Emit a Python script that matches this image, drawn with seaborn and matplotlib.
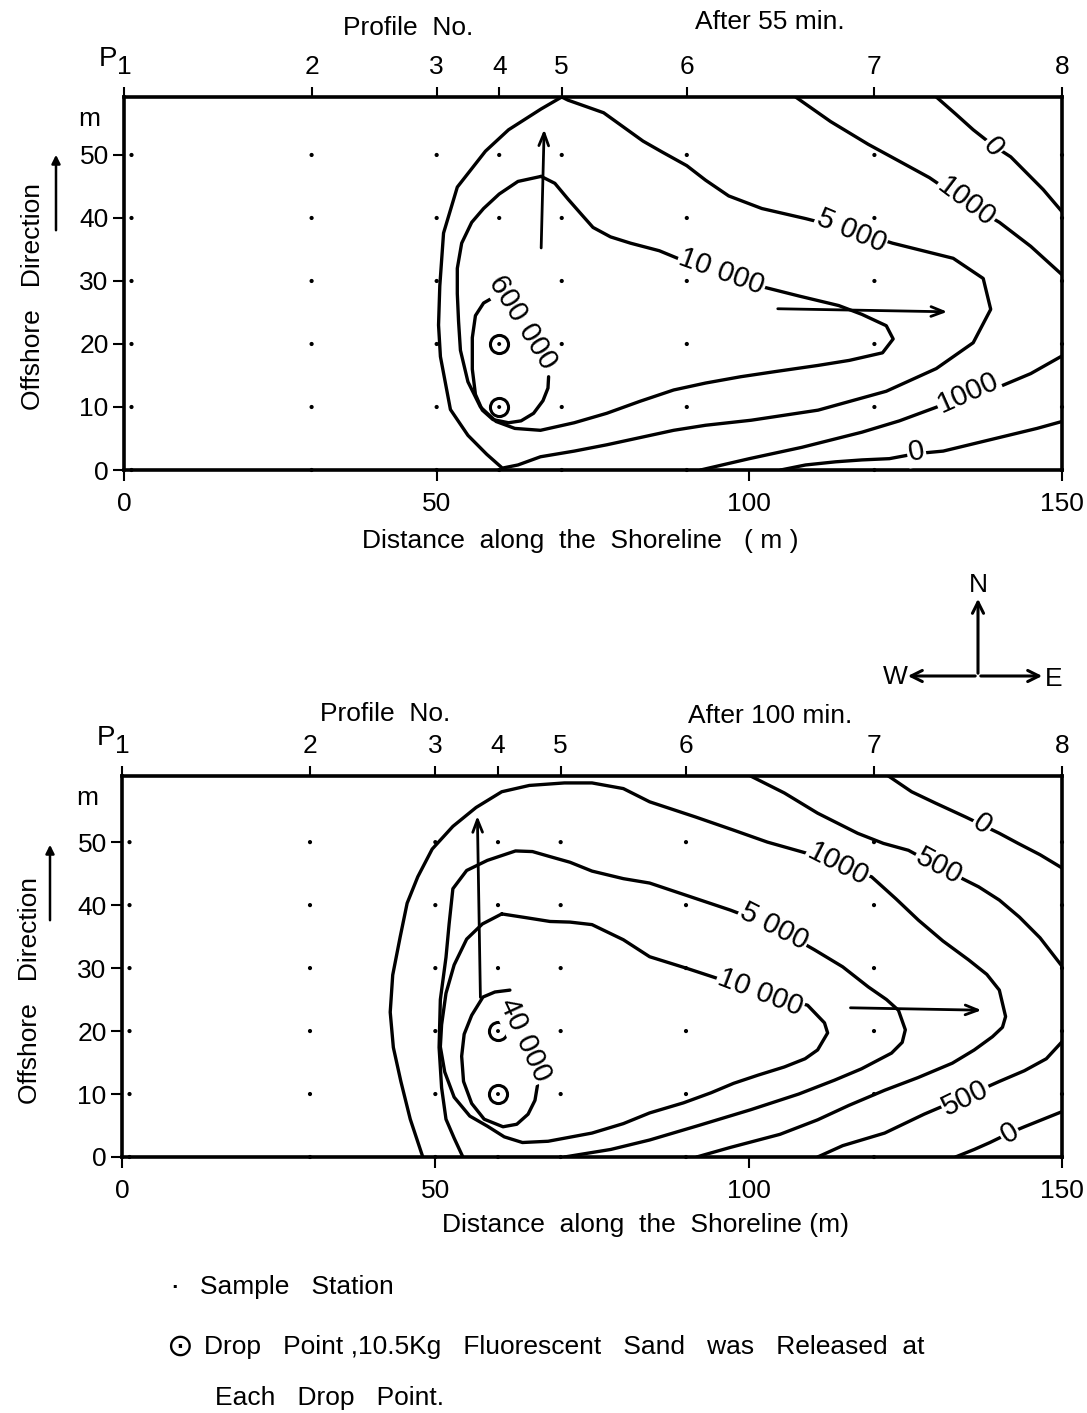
import matplotlib
matplotlib.use("Agg")
import matplotlib.pyplot as plt
import seaborn as sns
import pandas as pd

sns.set_style("white")
plt.rcParams['font.family'] = ['Liberation Sans', 'DejaVu Sans']
plt.rcParams.update({'text.color': 'black', 'axes.labelcolor': 'black',
                     'xtick.color': 'black', 'ytick.color': 'black'})

# ---------------- data ----------------
profile_x = [0, 30, 50, 60, 70, 90, 120, 150]
profile_labels = ["1", "2", "3", "4", "5", "6", "7", "8"]
station_x = [1.2, 30, 50, 60, 70, 90, 120, 150]
station_y = [0, 10, 20, 30, 40, 50]
drop_x = [60, 60]
drop_y = [20, 10]
xticks = [0, 50, 100, 150]
yticks = [0, 10, 20, 30, 40, 50]

# Panel 1 (after 55 min) contour lines
p1_5000_x = [70, 66.7, 61.5, 57.8, 53.3, 51.1, 50.5, 50.3, 50.6, 52.2, 55, 58, 60.5, 63, 66.6, 72, 77.2, 87.9, 93, 100.3, 111, 121.9, 129.9, 135.8, 138.6, 137.4, 132.6, 122.9, 116.5, 109, 102, 96.7, 93, 90, 86, 83, 76.7, 71, 70]
p1_5000_y = [59.2, 57.3, 54, 50.6, 44.9, 37.6, 29.2, 23, 18, 9.6, 5.5, 2.5, 0.3, 0.8, 2.1, 3, 4, 6.3, 7.1, 7.9, 9.5, 12.5, 16.1, 20.2, 25.5, 30.4, 33.6, 36, 38, 39.9, 41.5, 43.5, 46, 48.3, 50.5, 52.2, 56.7, 58.7, 59.2]
p1_10000_x = [66.7, 63, 60, 57.5, 55.6, 54, 53.3, 53.3, 53.5, 53.8, 55, 57, 59.5, 62.5, 66.6, 72, 77.2, 82.5, 87.9, 93, 98.6, 104, 111, 116, 121.3, 123, 121.9, 118, 114.3, 108, 102.4, 98, 95.5, 90, 85.6, 81, 77.8, 75, 73.3, 71, 68.9, 66.7]
p1_10000_y = [46.6, 45.8, 43.8, 41.5, 39.3, 36, 32, 28, 23.6, 19, 14, 10, 7.7, 6.6, 6.3, 7.5, 9, 10.9, 12.7, 13.8, 14.8, 15.6, 16.6, 17.4, 18.6, 20.8, 22.9, 24.7, 26.1, 27.6, 29, 30.5, 31.4, 33, 34.8, 36, 37, 38.5, 40.4, 43, 45.5, 46.6]
p1_600000_x = [58.9, 57.5, 56.2, 55.7, 55.7, 56.2, 57.3, 59, 61.5, 63.5, 65.5, 67, 67.8, 67.9]
p1_600000_y = [27.3, 26.5, 24.5, 21, 16, 12, 9.5, 8, 7.5, 7.8, 9, 11, 13, 14.8]
p1_1000u_x = [107.4, 113, 119, 124, 128.8, 134.7, 140, 145, 150]
p1_1000u_y = [59.2, 55.3, 51.7, 49, 46.4, 42.4, 39.3, 35.5, 31]
p1_0u_x = [129.9, 133, 135.8, 139, 141.8, 144, 147, 150]
p1_0u_y = [59.2, 56.5, 54, 51.5, 49.7, 47.5, 44.5, 41]
p1_1000l_x = [92.2, 100, 108.4, 118, 124, 130, 135.4, 140.2, 145, 150]
p1_1000l_y = [0, 1.8, 3.6, 6, 7.8, 10, 12.2, 13.3, 15.3, 18.1]
p1_0l_x = [105, 109, 113.8, 118, 122.4, 126.7, 131, 136, 141, 146, 150]
p1_0l_y = [0, 0.8, 1.3, 1.6, 1.8, 2.6, 3, 4.2, 5.4, 6.6, 7.7]

# Panel 2 (after 100 min) contour lines
p2_1000_x = [48, 47, 46, 44.5, 43.3, 42.8, 43.2, 44.4, 45.5, 47.2, 49.5, 52.8, 56.5, 60.6, 65, 70.6, 75, 80, 84.2, 91.5, 97.6, 103, 109.4, 114.2, 119.6, 123.5, 127.1, 131, 135.1, 138, 140, 141, 140.5, 138.9, 136, 132.5, 127, 121.7, 116, 111, 105, 97, 91.7]
p2_1000_y = [0, 3, 6, 12, 17.4, 23, 28.9, 35, 40.3, 44.5, 48.9, 52.5, 55.5, 58, 59, 59.4, 59.4, 58.5, 56.4, 54, 51.9, 50, 48.2, 46.1, 44.5, 41, 37.6, 34.3, 31.3, 29, 26.5, 22.3, 20.6, 19.1, 17, 14.9, 12.6, 10.6, 8.2, 5.9, 3.6, 1.5, 0]
p2_5000_x = [54.4, 53, 51.7, 51, 50.6, 50.8, 51.7, 52.2, 52.8, 55, 58.3, 62.8, 65.5, 68.3, 71.5, 75, 80, 84.2, 90.5, 97.1, 104, 110.5, 115, 119.1, 122, 123.9, 125, 124.5, 122.8, 118, 113.7, 108, 100.3, 92, 84.2, 78, 70.6]
p2_5000_y = [0, 3, 6, 11, 17.4, 25, 31.7, 37, 42.6, 45.5, 47.1, 48.6, 48.5, 47.7, 46.8, 45.4, 44.2, 43.5, 41.4, 39.2, 36.6, 32.9, 30.2, 27, 25, 23.3, 20.2, 18.2, 16.5, 14, 12.2, 10, 7.5, 5, 2.7, 1.2, 0]
p2_10000_x = [60.6, 57.5, 55, 53, 51.7, 51, 50.8, 51.5, 53, 55.5, 58.3, 61, 63.9, 68, 75, 80, 84.2, 89.6, 94, 97.6, 101.5, 105.7, 109, 111, 112.6, 112.1, 109.4, 105.5, 101.9, 98, 94.9, 90, 84.2, 80, 75, 71.5, 68.3, 64.5, 60.6]
p2_10000_y = [38.6, 37, 34.6, 30.5, 26, 21, 17.5, 13.5, 9.5, 6.5, 4.9, 3.2, 2.3, 2.5, 3.8, 5.3, 7, 8.6, 10.2, 11.7, 13, 14.3, 15.6, 17, 19.7, 21.3, 24.1, 25.2, 26, 27.2, 28.4, 30, 31.8, 34.5, 36.9, 37.3, 37.4, 38, 38.6]
p2_40000_x = [61.9, 59.5, 57.6, 55.8, 54.6, 54.2, 54.5, 55.8, 57.8, 60.8, 63, 64.8, 65.9, 66.3]
p2_40000_y = [26.5, 26.2, 25.4, 22.5, 19.5, 16, 12, 8.5, 6, 4.8, 5.2, 6.8, 9, 11.4]
p2_500u_x = [100.3, 105.7, 111, 117.4, 121.5, 125.5, 130.3, 136.7, 140, 143.2, 146.5, 150]
p2_500u_y = [60.5, 57.8, 54.6, 51.4, 49.8, 48.7, 46.1, 42.9, 40.8, 38.1, 34.8, 30.3]
p2_0u_x = [122.3, 126, 129.8, 134.6, 137.3, 140, 143, 146.5, 150]
p2_0u_y = [60.5, 58, 56.2, 54, 52.7, 51.4, 49.8, 48, 45.9]
p2_500l_x = [111, 115, 121.7, 128, 134.6, 140, 144, 147.5, 150]
p2_500l_y = [0, 1.8, 3.8, 6.8, 9.6, 12, 13.7, 15.6, 18.3]
p2_0l_x = [133, 136, 138.5, 141.6, 144, 147, 150]
p2_0l_y = [0, 1.2, 2.3, 3.8, 4.8, 6, 7.2]

# contour labels: (text, x, y, rotation)
p1_labels = [("5 000", 116.3, 38.0, -23), ("10 000", 95.6, 31.4, -20),
             ("600 000", 63.8, 23.5, -58), ("1000", 134.7, 42.6, -37),
             ("0", 139.0, 51.3, -50), ("1000", 135.0, 12.3, 24),
             ("0", 126.7, 2.9, 10)]
p2_labels = [("1000", 114.2, 46.4, -27), ("500", 130.3, 46.1, -28),
             ("0", 137.3, 52.8, -35), ("5 000", 104.0, 36.6, -27),
             ("10 000", 101.9, 26.2, -21), ("40 000", 64.3, 18.6, -65),
             ("500", 134.6, 9.4, 26), ("0", 141.6, 3.8, 30)]

# transport arrows: (x_start, y_start, x_end, y_end)
p1_arrows = [(66.7, 34.8, 67.2, 54.5), (104.1, 25.6, 132.1, 25.1)]
p2_arrows = [(57.2, 24.9, 56.7, 54.6), (115.8, 23.7, 137.6, 23.3)]

W, H = 1087, 1413
fig = plt.figure(figsize=(W / 100, H / 100), dpi=100)
LW = 2.4
FS = 19
CFS = 21


def fx(px):
    return px / W


def fy(py):
    return 1 - py / H


def draw_panel(ax, ytop, lines, labels, arrows):
    ax.set_xlim(0, 150)
    ax.set_ylim(0, ytop)
    for xs, ys in lines:
        df = pd.DataFrame({"x": xs, "y": ys})
        sns.lineplot(data=df, x="x", y="y", sort=False, estimator=None,
                     color="black", lw=LW, ax=ax, zorder=3)
    # sample stations
    sx = [x for x in station_x for _ in station_y]
    sy = [y for _ in station_x for y in station_y]
    sns.scatterplot(x=sx, y=sy, ax=ax, s=9, color="black", edgecolor="none",
                    zorder=4, clip_on=False)
    # drop points
    sns.scatterplot(x=drop_x, y=drop_y, ax=ax, s=170, facecolor="white",
                    edgecolor="black", linewidth=2.2, zorder=5)
    sns.scatterplot(x=drop_x, y=drop_y, ax=ax, s=8, color="black",
                    edgecolor="none", zorder=6)
    for t, x, y, r in labels:
        ax.text(x, y, t, rotation=r, ha="center", va="center", fontsize=CFS,
                rotation_mode="anchor", zorder=7,
                bbox=dict(boxstyle="square,pad=0.05", fc="white", ec="none"))
    for x0, y0, x1, y1 in arrows:
        ax.annotate("", xy=(x1, y1), xytext=(x0, y0),
                    arrowprops=dict(arrowstyle="->,head_length=0.9,head_width=0.35",
                                    color="black", lw=2), zorder=8)
    ax.set_xlabel("")
    ax.set_ylabel("")
    for s in ["top", "bottom", "right", "left"]:
        ax.spines[s].set_visible(True)
        ax.spines[s].set_linewidth(2.6)
        ax.spines[s].set_color("black")
    ax.set_xticks(xticks)
    ax.set_xticklabels([str(v) for v in xticks], fontsize=FS)
    ax.set_yticks(yticks)
    ax.set_yticklabels([str(v) for v in yticks], fontsize=FS)
    ax.tick_params(axis="both", direction="out", length=8, width=1.5,
                   colors="black", pad=3, bottom=True, left=True)
    ax.tick_params(axis="x", pad=8)
    ax.text(-5.5, ytop - 3.5, "m", ha="center", va="center", fontsize=FS)
    sec = ax.secondary_xaxis("top")
    sec.set_xticks(profile_x)
    sec.set_xticklabels(profile_labels, fontsize=FS)
    sec.tick_params(direction="out", length=7, width=1.5, pad=6, colors="black")
    sec.spines["top"].set_visible(False)
    ax.text(-2.6, ytop + 6.0, "P", ha="center", va="center", fontsize=FS + 1)


ax1 = fig.add_axes([fx(124), fy(470), fx(938), 373 / H])
draw_panel(ax1, 59.2,
           [(p1_5000_x, p1_5000_y), (p1_10000_x, p1_10000_y),
            (p1_600000_x, p1_600000_y), (p1_1000u_x, p1_1000u_y),
            (p1_0u_x, p1_0u_y), (p1_1000l_x, p1_1000l_y), (p1_0l_x, p1_0l_y)],
           p1_labels, p1_arrows)

ax2 = fig.add_axes([fx(122), fy(1157), fx(940), 381 / H])
draw_panel(ax2, 60.5,
           [(p2_1000_x, p2_1000_y), (p2_5000_x, p2_5000_y),
            (p2_10000_x, p2_10000_y), (p2_40000_x, p2_40000_y),
            (p2_500u_x, p2_500u_y), (p2_0u_x, p2_0u_y),
            (p2_500l_x, p2_500l_y), (p2_0l_x, p2_0l_y)],
           p2_labels, p2_arrows)

# panel titles
fig.text(fx(408), fy(28), "Profile  No.", ha="center", va="center", fontsize=FS)
fig.text(fx(770), fy(22), "After 55 min.", ha="center", va="center", fontsize=FS)
fig.text(fx(385), fy(714), "Profile  No.", ha="center", va="center", fontsize=FS)
fig.text(fx(770), fy(716), "After 100 min.", ha="center", va="center", fontsize=FS)

# axis labels
fig.text(fx(580), fy(541), "Distance  along  the  Shoreline   ( m )", ha="center",
         va="center", fontsize=FS)
fig.text(fx(645), fy(1225), "Distance  along  the  Shoreline (m)", ha="center",
         va="center", fontsize=FS)
fig.text(fx(33), fy(297), "Offshore   Direction", rotation=90, ha="center",
         va="center", fontsize=FS)
fig.text(fx(30), fy(991), "Offshore   Direction", rotation=90, ha="center",
         va="center", fontsize=FS)
for (x, y0, y1) in [(56, 233, 152), (50, 923, 842)]:
    fig.add_artist(matplotlib.patches.FancyArrowPatch(
        (fx(x), fy(y0)), (fx(x), fy(y1)), transform=fig.transFigure,
        arrowstyle="-|>,head_length=5,head_width=2.5", color="black", lw=1.8))

# compass
for (x1, y1) in [(978, 596), (905, 676), (1045, 676)]:
    fig.add_artist(matplotlib.patches.FancyArrowPatch(
        (fx(978), fy(676)), (fx(x1), fy(y1)), transform=fig.transFigure,
        arrowstyle="->,head_length=8,head_width=4", color="black", lw=2.2))
fig.text(fx(978), fy(585), "N", ha="center", va="center", fontsize=FS)
fig.text(fx(895), fy(677), "W", ha="center", va="center", fontsize=FS)
fig.text(fx(1054), fy(679), "E", ha="center", va="center", fontsize=FS)

# legend notes
fig.text(fx(175), fy(1287), "·", ha="center", va="center", fontsize=FS + 4)
fig.text(fx(200), fy(1287), "Sample   Station", ha="left", va="center", fontsize=FS)
fig.text(fx(180), fy(1347), "⊙", ha="center", va="center", fontsize=FS + 4,
         family=["DejaVu Sans"])
fig.text(fx(204), fy(1347),
         "Drop   Point ,10.5Kg   Fluorescent   Sand   was   Released  at",
         ha="left", va="center", fontsize=FS)
fig.text(fx(215), fy(1398), "Each   Drop   Point.", ha="left", va="center",
         fontsize=FS)

fig.savefig("out.png", dpi=100, facecolor="white")
